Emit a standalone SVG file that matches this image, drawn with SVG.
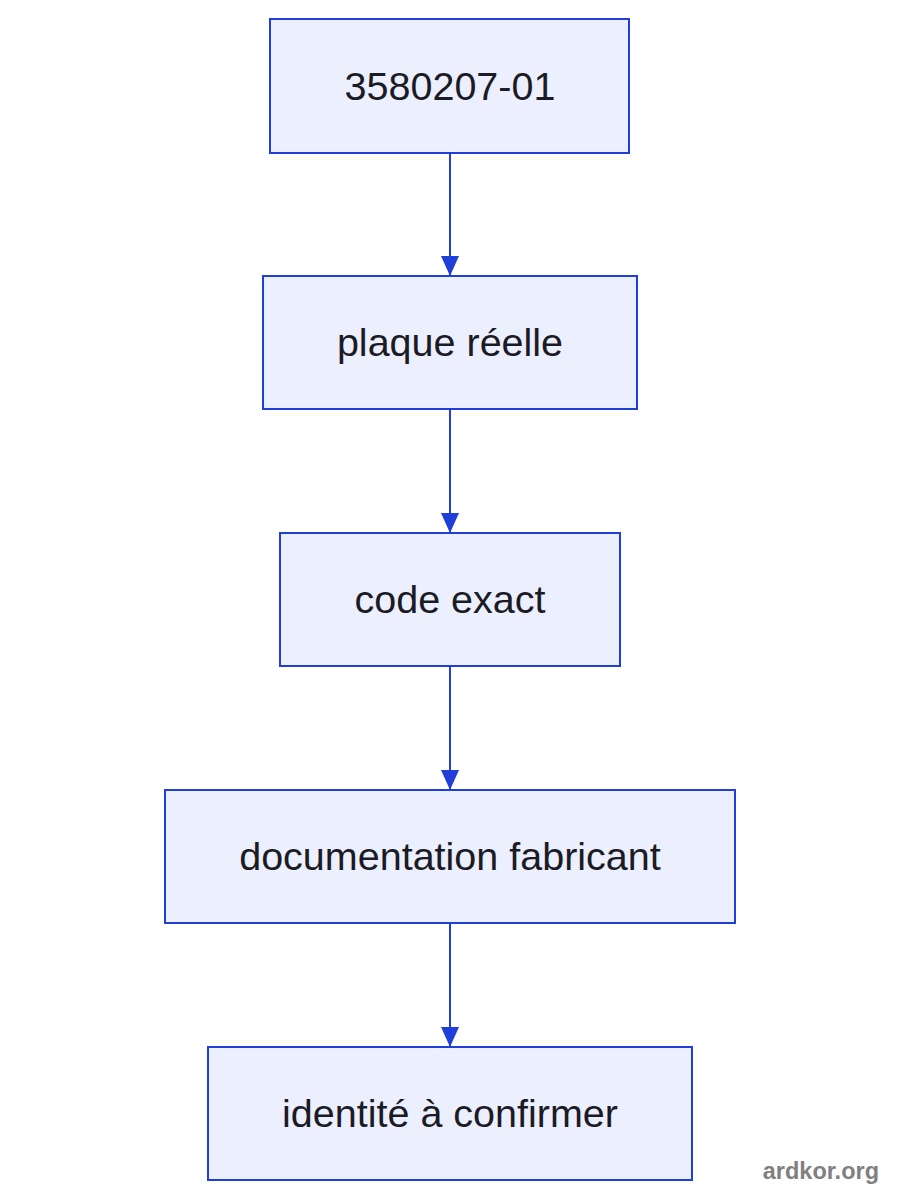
<svg xmlns="http://www.w3.org/2000/svg" width="900" height="1200" viewBox="0 0 900 1200">
<style>
.node rect{fill:#eceffd;stroke:#1f3fd8;stroke-width:2}
.node text{font-family:"Liberation Sans",Arial,sans-serif;font-size:39.5px;fill:#1b1b26;text-anchor:middle}
.edge{stroke:#1f3fd8;stroke-width:2;fill:none}
.wm{font-family:"Liberation Sans",Arial,sans-serif;font-size:23.5px;font-weight:bold;fill:#808080;text-anchor:end}
</style>
<defs>
<marker id="arr" viewBox="0 0 20 18" refX="20" refY="9" markerWidth="20" markerHeight="18" markerUnits="userSpaceOnUse" orient="auto">
<path d="M0,0 L20,9 L0,18 z" fill="#1f3fd8"/>
</marker>
</defs>
<rect width="900" height="1200" fill="#ffffff"/>
<g id="connectors">
<line class="edge" x1="450" y1="153" x2="450" y2="276" marker-end="url(#arr)"/>
<line class="edge" x1="450" y1="410" x2="450" y2="533" marker-end="url(#arr)"/>
<line class="edge" x1="450" y1="667" x2="450" y2="790" marker-end="url(#arr)"/>
<line class="edge" x1="450" y1="923" x2="450" y2="1047" marker-end="url(#arr)"/>
</g>
<g id="n1" class="node"><rect x="270" y="19" width="359" height="134"/><text x="450" y="100">3580207-01</text></g>
<g id="n2" class="node"><rect x="263" y="276" width="374" height="133"/><text x="450" y="356">plaque réelle</text></g>
<g id="n3" class="node"><rect x="280" y="533" width="340" height="133"/><text x="450" y="613">code exact</text></g>
<g id="n4" class="node"><rect x="165" y="790" width="570" height="133"/><text x="450" y="870">documentation fabricant</text></g>
<g id="n5" class="node"><rect x="208" y="1047" width="484" height="133"/><text x="450" y="1127">identité à confirmer</text></g>
<text class="wm" x="879" y="1179">ardkor.org</text>
</svg>
